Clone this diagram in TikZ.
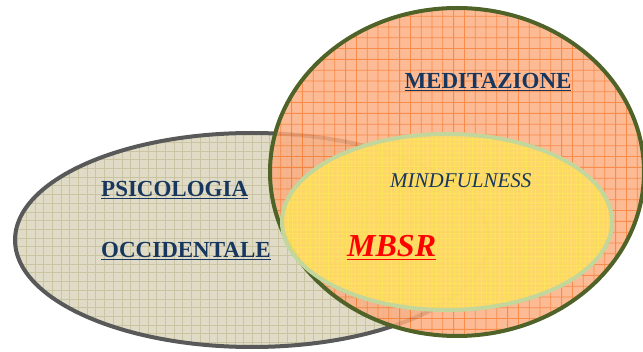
\documentclass[tikz,border=0pt]{standalone}
\usepackage{fontspec}
\setmainfont{Liberation Serif}

\definecolor{psiFill}{HTML}{DFDBC6}
\definecolor{psiGrid}{HTML}{CBC4A2}
\definecolor{psiLine}{HTML}{595959}
\definecolor{medFill}{HTML}{FCAE82}
\definecolor{medGrid}{HTML}{F8782A}
\definecolor{medLine}{HTML}{4F6228}
\definecolor{mindFill}{HTML}{FEDB68}
\definecolor{mindGrid}{HTML}{FFF050}
\definecolor{mindLine}{HTML}{C3D69B}
\definecolor{navy}{HTML}{17375E}

\tikzset{
  title/.style={text=navy, font=\bfseries\fontsize{23}{26}\selectfont, inner sep=0pt},
}

\begin{document}
\begin{tikzpicture}[x=1pt,y=1pt]

\useasboundingbox (0,0) rectangle (643,351);

\begin{scope}
\clip (252,111) ellipse [x radius=237pt, y radius=107pt];
\fill[psiFill] (0,0) rectangle (643,351);
\draw[step=8.7pt, psiGrid, line width=0.5] (0,0) grid (643,351);
\end{scope}
\draw[psiLine, line width=4] (252,111) ellipse [x radius=237pt, y radius=107pt];

\begin{scope}[transparency group, opacity=0.85]
\clip (457,179) ellipse [x radius=187pt, y radius=164pt];
\fill[medFill] (0,0) rectangle (643,351);
\draw[step=10.8pt, medGrid, line width=0.8] (0,0) grid (643,351);
\end{scope}
\draw[medLine, line width=4] (457,179) ellipse [x radius=187pt, y radius=164pt];

\begin{scope}[transparency group, opacity=0.92]
\clip (447,129) ellipse [x radius=165pt, y radius=88pt];
\fill[mindFill] (0,0) rectangle (643,351);
\draw[step=4.5pt, mindGrid, line width=0.5] (0,0) grid (643,351);
\end{scope}
\draw[mindLine, line width=4] (447,129) ellipse [x radius=165pt, y radius=88pt];

\node[title, anchor=base] (med) at (488,262) {\underline{MEDITAZIONE}};
\node[title, anchor=base west] (psi) at (101,154) {\underline{PSICOLOGIA}};
\node[title, anchor=base west] (occ) at (101,93) {\underline{OCCIDENTALE}};
\node[text=navy, font=\itshape\fontsize{21}{24}\selectfont, inner sep=0pt, anchor=base west] (mind) at (390,163) {MINDFULNESS};
\node[text=red, font=\bfseries\itshape\fontsize{32}{36}\selectfont, inner sep=0pt, anchor=base west] (mbsr) at (347,94) {\underline{MBSR}};

\end{tikzpicture}
\end{document}
